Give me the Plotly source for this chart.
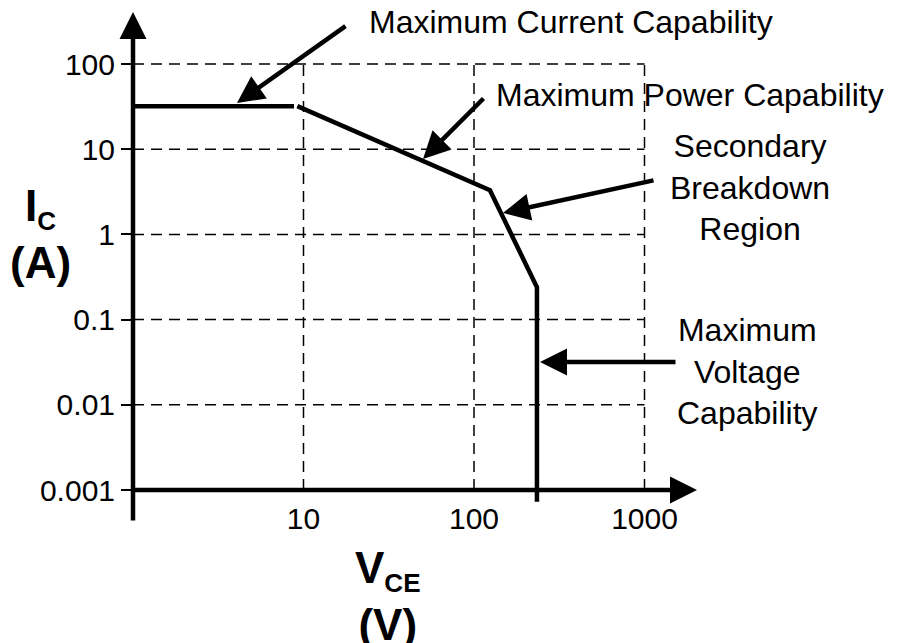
import math
import plotly.graph_objects as go

# ---------------- data ----------------
current_limit_v = [1, 8.8]
current_limit_i = [32, 32]
soa_boundary_v = [9.2, 124, 234, 234]
soa_boundary_i = [32, 3.3, 0.24, 0.00073]

x_tick_vals = [10, 100, 1000]
x_tick_text = ["10", "100", "1000"]
y_tick_vals = [100, 10, 1, 0.1, 0.01, 0.001]
y_tick_text = ["100", "10", "1", "0.1", "0.01", "0.001"]

grid_v = [10, 100, 1000]
grid_i = [100, 10, 1, 0.1, 0.01]

# ---------------- layout geometry ----------------
PAGE = 8            # body margin of the html page
W, H = 909 - PAGE, 643 - PAGE
LEFT = 133          # page pixel of V = 1
DEC_X = 170.5       # pixels per decade (x)
DEC_Y = 85.2        # pixels per decade (y)
Y_AXIS_PX = 490     # page pixel of I = 0.001
MARGIN_L = LEFT - PAGE
PLOT_W = W - MARGIN_L


def lx(px):
    return (px - LEFT) / DEC_X


def ly(py):
    return -3 + (Y_AXIS_PX - py) / DEC_Y


x_range = [0, lx(909)]
y_range = [ly(643), ly(PAGE)]

FONT = "Liberation Sans, Arial, sans-serif"
fig = go.Figure()

line_style = dict(color="black", width=4.5)
fig.add_trace(go.Scatter(x=current_limit_v, y=current_limit_i, mode="lines",
                         line=line_style, showlegend=False, hoverinfo="skip"))
fig.add_trace(go.Scatter(x=soa_boundary_v, y=soa_boundary_i, mode="lines",
                         line=line_style, showlegend=False, hoverinfo="skip"))

shapes = []
grid_line = dict(color="black", width=1.5, dash="11px,7px")
for v in grid_v:
    shapes.append(dict(type="line", xref="x", yref="y", x0=v, x1=v,
                       y0=min(y_tick_vals), y1=max(y_tick_vals),
                       line=grid_line, layer="below"))
for i in grid_i:
    shapes.append(dict(type="line", xref="x", yref="y", x0=1, x1=max(grid_v),
                       y0=i, y1=i, line=grid_line, layer="below"))

annotations = []
arrow_common = dict(showarrow=True, arrowhead=2, arrowsize=1.2, arrowwidth=4.5,
                    arrowcolor="black", text="", xref="x", yref="y",
                    axref="x", ayref="y", standoff=0)
# axes with arrowheads
annotations.append(dict(x=lx(133), y=ly(12), ax=lx(133), ay=ly(522), **arrow_common))
annotations.append(dict(x=lx(697), y=ly(490), ax=lx(133), ay=ly(490), **arrow_common))
# pointer arrows (tip, tail) in page pixels
pointer_arrows = [
    ((237, 103), (347, 25)),
    ((423, 159), (485, 97)),
    ((503, 213), (655, 180)),
    ((540, 362), (677, 362)),
]
for (tx, ty), (sx, sy) in pointer_arrows:
    annotations.append(dict(x=lx(tx), y=ly(ty), ax=lx(sx), ay=ly(sy), **arrow_common))


def px_paper(px):
    return (px - PAGE - MARGIN_L) / PLOT_W


def py_paper(py):
    return 1 - (py - PAGE) / H


labels = [
    ("Maximum Current Capability", 571, 22),
    ("Maximum Power Capability", 690, 95),
    ("Secondary<br>Breakdown<br>Region", 750, 188),
    ("Maximum<br>Voltage<br>Capability", 747, 371),
]
for txt, px, py in labels:
    annotations.append(dict(text=txt, x=px_paper(px), y=py_paper(py), xref="paper", yref="paper",
                            showarrow=False, xanchor="center", yanchor="middle",
                            align="center", font=dict(size=32, color="black", family=FONT)))

title_font = dict(size=44, color="black", family=FONT)
annotations.append(dict(text="<b>I<sub><span style='font-size:26px'>C</span></sub><br>(A)</b>",
                        x=px_paper(40), y=py_paper(234), xref="paper", yref="paper",
                        showarrow=False, xanchor="center", yanchor="middle", align="center",
                        font=title_font))
annotations.append(dict(text="<b>V<sub><span style='font-size:26px'>CE</span></sub><br>(V)</b>",
                        x=px_paper(387), y=py_paper(596), xref="paper", yref="paper",
                        showarrow=False, xanchor="center", yanchor="middle", align="center",
                        font=title_font))

fig.update_layout(
    width=W, height=H,
    margin=dict(l=MARGIN_L, r=0, t=0, b=0),
    paper_bgcolor="white", plot_bgcolor="white",
    showlegend=False,
    shapes=shapes,
    annotations=annotations,
    xaxis=dict(type="log", range=x_range, showgrid=False, zeroline=False, showline=False,
               tickvals=x_tick_vals, ticktext=x_tick_text, ticks="",
               anchor="free", position=py_paper(Y_AXIS_PX),
               ticklabelstandoff=8,
               tickfont=dict(size=30, color="black", family=FONT)),
    yaxis=dict(type="log", range=y_range, showgrid=False, zeroline=False, showline=False,
               tickvals=y_tick_vals, ticktext=y_tick_text, ticks="outside",
               ticklen=11, tickwidth=2, tickcolor="black",
               tickfont=dict(size=30, color="black", family=FONT)),
)

fig.write_html("out.html")
